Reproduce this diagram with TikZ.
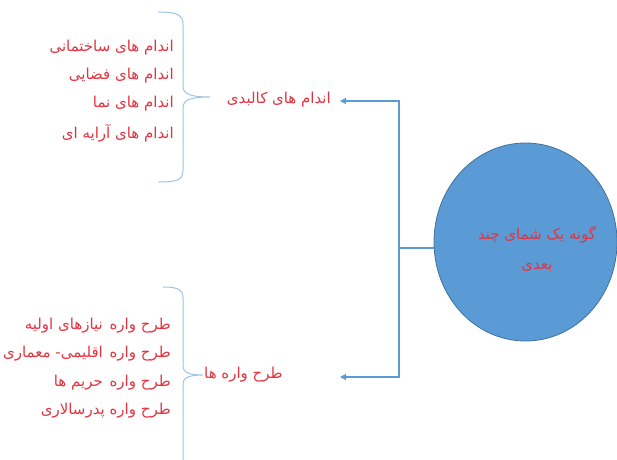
\documentclass[tikz,border=0pt]{standalone}
\usepackage{fontspec}
\newfontfamily\farsi[Script=Arabic]{DejaVu Sans}
\TeXXeTstate=1
\usetikzlibrary{shapes.geometric,arrows.meta}
\definecolor{matnred}{RGB}{226,52,64}
\definecolor{abi}{RGB}{91,155,213}
\definecolor{abitire}{RGB}{65,113,156}
\definecolor{akoladabi}{RGB}{157,195,230}
\newcommand{\fa}[1]{{\farsi\beginR #1\endR}}

\begin{document}
\begin{tikzpicture}[x=1pt,y=-1pt,
    matn/.style={text=matnred,font=\farsi\fontsize{15}{30}\selectfont,inner sep=1pt},
    khat/.style={draw=abi,line width=1.2pt},
    akolad/.style={draw=akoladabi,line width=1pt}]
        \useasboundingbox (0,0) rectangle (617,459);
        \clip (0,0) rectangle (617,459);
        % Dayere (gone)
        \node[ellipse,fill=abi,draw=abitire,line width=0.8pt,minimum width=183pt,minimum height=198pt,inner sep=0pt] (gone) at (525.5,242) {};
        \node[matn,align=center] (gonematn) at (537,249) {\fa{گونه یک شمای چند}\\\fa{بعدی}};
        % Sar-e shakheha
        \node[matn,anchor=east] (kalbadi) at (332,100) {\fa{اندام های کالبدی}};
        \node[matn,anchor=west] (tarh) at (203,375) {\fa{طرح واره ها}};
        \coordinate (a1) at (340,101);
        \coordinate (a2) at (340,377);
        \coordinate (j) at (399,248);
        % Khat-ha
        \draw[khat] (j -| gone.west) -- (j);
        \draw[khat,-{Triangle[length=6pt,width=6pt]}] (j) |- (a1);
        \draw[khat,-{Triangle[length=6pt,width=6pt]}] (j) |- (a2);
        % Akolad-e bala
        \draw[akolad] (158,12) .. controls (178,12) and (183,15) .. (183,25) -- (183,86)
            .. controls (183,94) and (190,97) .. (210,97)
            .. controls (190,97) and (183,100) .. (183,108) -- (183,170)
            .. controls (183,180) and (178,182) .. (158,182);
        % Akolad-e paeen
        \draw[akolad] (163,287) .. controls (179,287) and (183,290) .. (183,298) -- (183,366)
            .. controls (183,372) and (188,375) .. (203,375)
            .. controls (188,375) and (183,378) .. (183,384) -- (183,470);
        % Andam-ha
        \node[matn,anchor=east] (t1) at (175,48) {\fa{اندام های ساختمانی}};
        \node[matn,anchor=east] (t2) at (175,76) {\fa{اندام های فضایی}};
        \node[matn,anchor=east] (t3) at (175,104) {\fa{اندام های نما}};
        \node[matn,anchor=east] (t4) at (175,133) {\fa{اندام های آرایه ای}};
        % Tarh-vareh-ha
        \node[matn,anchor=east] (b1) at (172,326) {\fa{طرح واره\ \hspace{2pt}نیازهای اولیه}};
        \node[matn,anchor=east] (b2) at (172,354) {\fa{طرح واره\ \hspace{2pt}اقلیمی- معماری}};
        \node[matn,anchor=east] (b3) at (172,383) {\fa{طرح واره\ \hspace{2pt}حریم ها}};
        \node[matn,anchor=east] (b4) at (172,411) {\fa{طرح واره پدرسالاری}};
\end{tikzpicture}
\end{document}
